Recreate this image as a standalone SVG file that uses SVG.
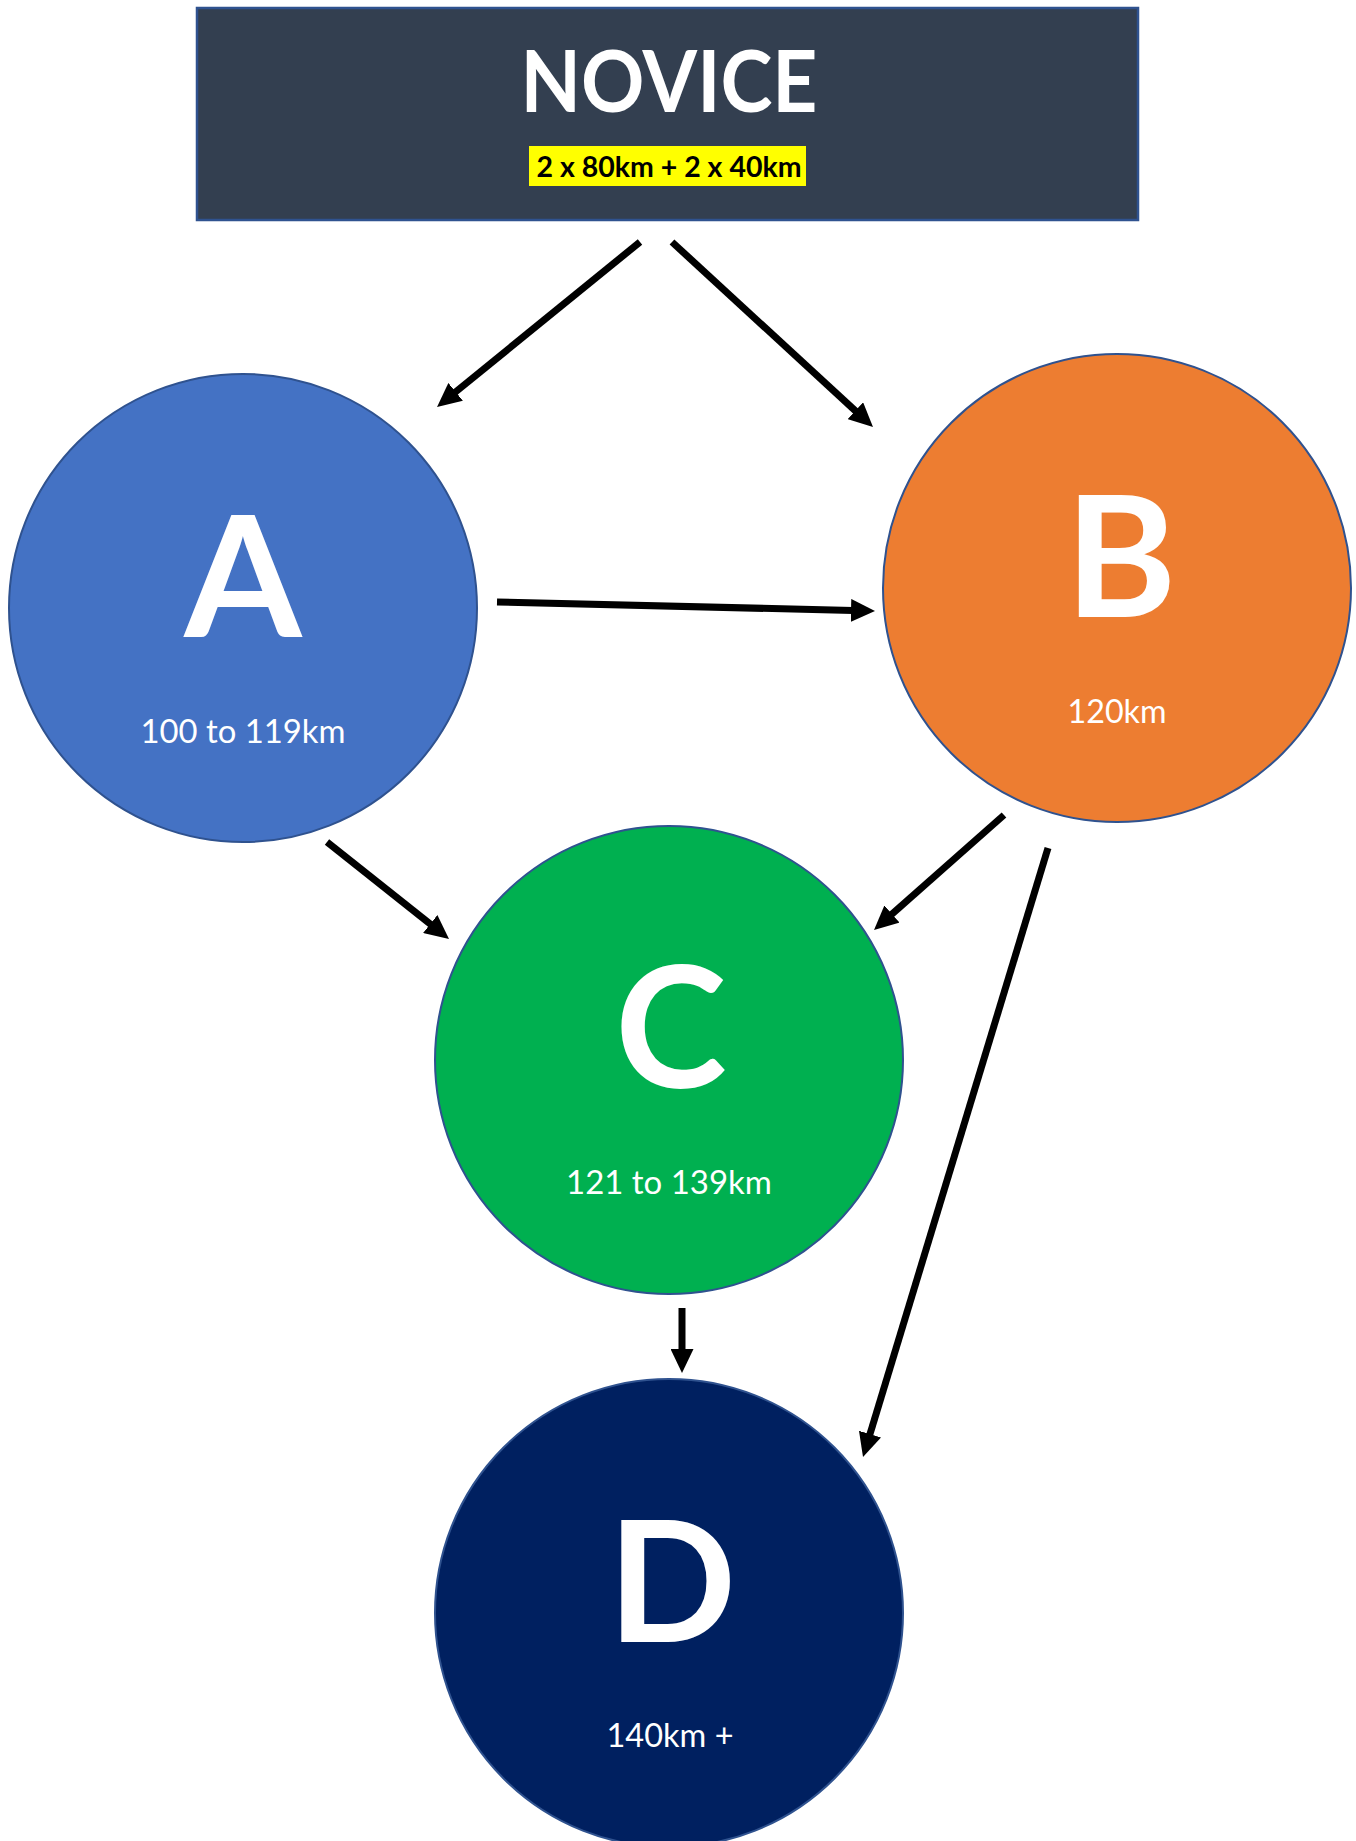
<svg xmlns="http://www.w3.org/2000/svg" width="1356" height="1841" viewBox="0 0 1356 1841">
  <style>
    .node { stroke: #2F528F; stroke-width: 2; }
    .big { font-family: Lato, "Open Sans", "Liberation Sans", sans-serif; font-weight: bold; fill: #FFFFFF; text-anchor: middle; }
    .sub { font-family: Lato, "Open Sans", "Liberation Sans", sans-serif; font-size: 32px; fill: #FFFFFF; text-anchor: middle; }
    .conn { stroke: #000000; stroke-width: 7; fill: none; marker-end: url(#arrow); }
  </style>
  <defs>
    <marker id="arrow" markerUnits="userSpaceOnUse" markerWidth="24" markerHeight="23" refX="2" refY="11.5" orient="auto">
      <path d="M0,0 L24,11.5 L0,23 z" fill="#000000"/>
    </marker>
  </defs>
  <rect width="1356" height="1841" fill="#FFFFFF"/>

  <g id="novice">
    <rect x="197" y="8" width="941" height="212" fill="#333F50" stroke="#2F528F" stroke-width="2.5"/>
    <text class="big" x="669" y="112" font-size="87" textLength="297" lengthAdjust="spacingAndGlyphs">NOVICE</text>
    <rect x="529" y="146" width="277" height="40" fill="#FFFF00"/>
    <text x="669" y="177" font-family="Lato, 'Open Sans', 'Liberation Sans', sans-serif" font-weight="bold" font-size="28" fill="#000000" text-anchor="middle" textLength="265" lengthAdjust="spacingAndGlyphs">2 x 80km + 2 x 40km</text>
  </g>

  <g id="node-a">
    <circle class="node" cx="243" cy="608" r="234" fill="#4472C4"/>
    <text class="big" x="243" y="637" font-size="169">A</text>
    <text class="sub" x="243" y="743" textLength="205" lengthAdjust="spacingAndGlyphs">100 to 119km</text>
  </g>

  <g id="node-b">
    <circle class="node" cx="1117" cy="588" r="234" fill="#ED7D31"/>
    <text class="big" x="1121" y="617" font-size="169">B</text>
    <text class="sub" x="1117" y="723" textLength="99" lengthAdjust="spacingAndGlyphs">120km</text>
  </g>

  <g id="node-c">
    <circle class="node" cx="669" cy="1060" r="234" fill="#00B050"/>
    <text class="big" x="671" y="1088" font-size="169">C</text>
    <text class="sub" x="669" y="1194" textLength="206" lengthAdjust="spacingAndGlyphs">121 to 139km</text>
  </g>

  <g id="node-d">
    <circle class="node" cx="669" cy="1613" r="234" fill="#002060"/>
    <text class="big" x="672" y="1642" font-size="169">D</text>
    <text class="sub" x="670" y="1747" textLength="127" lengthAdjust="spacingAndGlyphs">140km +</text>
  </g>

  <g id="connectors">
    <line class="conn" x1="640" y1="242" x2="454.1" y2="393.1"/>
    <line class="conn" x1="672" y1="242" x2="856.8" y2="412.1"/>
    <line class="conn" x1="497" y1="602" x2="853" y2="610.5"/>
    <line class="conn" x1="327" y1="842" x2="431.8" y2="925.3"/>
    <line class="conn" x1="1004" y1="815" x2="890.5" y2="915.4"/>
    <line class="conn" x1="1048" y1="848" x2="869.4" y2="1436"/>
    <line class="conn" x1="682" y1="1308" x2="682" y2="1351"/>
  </g>
</svg>
